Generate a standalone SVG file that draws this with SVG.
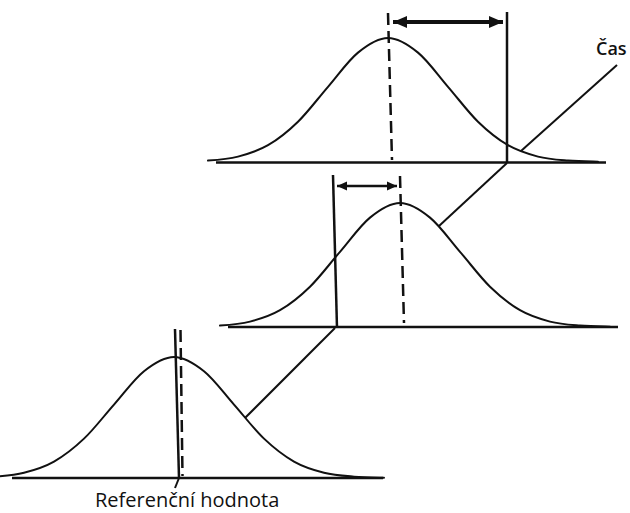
<svg xmlns="http://www.w3.org/2000/svg" xmlns:xlink="http://www.w3.org/1999/xlink" width="630" height="513" viewBox="0 0 630 513">
  <style>
    .curve { fill: none; stroke: #111; stroke-width: 2; stroke-linejoin: round; stroke-linecap: round; }
    .base { stroke: #111; stroke-width: 2.5; }
    .solid { stroke: #111; stroke-width: 2.5; }
    .dash { stroke: #111; stroke-width: 2.5; stroke-dasharray: 12 6; }
    .time { stroke: #111; stroke-width: 2; fill: none; }
    .lbl { font-family: "Open Sans", "Liberation Sans", sans-serif; fill: #111; }
  </style>
  <defs>
    <path id="bell" d="M -180 -1.4 C -170 -2.1, -160 -2.83, -150 -5.4 C -140 -7.97, -130 -10.98, -120 -16.8 C -110 -22.62, -100 -30.57, -90 -40.3 C -80 -50.03, -70 -63.68, -60 -75.2 C -50 -86.72, -40 -101.27, -30 -109.4 C -20 -117.53, -10 -124, 0 -124 C 10 -124, 20 -117.53, 30 -109.4 C 40 -101.27, 50 -86.72, 60 -75.2 C 70 -63.68, 80 -50.03, 90 -40.3 C 100 -30.57, 110 -22.62, 120 -16.8 C 130 -10.98, 140 -7.97, 150 -5.4 C 160 -2.83, 170 -2.25, 180 -1.4 C 190 -0.55, 200 -0.5, 210 -0.3"/>
    <marker id="headBig" markerUnits="userSpaceOnUse" markerWidth="16" markerHeight="14" refX="14" refY="7" orient="auto-start-reverse">
      <path d="M0,1 L14,7 L0,13 Z" fill="#111"/>
    </marker>
    <marker id="headSmall" markerUnits="userSpaceOnUse" markerWidth="12" markerHeight="10" refX="10" refY="5" orient="auto-start-reverse">
      <path d="M0,0.5 L10,5 L0,9.5 Z" fill="#111"/>
    </marker>
  </defs>

  <g id="connectors">
    <line class="time" x1="617" y1="65" x2="521" y2="151"/>
    <line class="time" x1="507" y1="163" x2="439" y2="226"/>
    <line class="time" x1="335" y1="328" x2="245" y2="418"/>
    <line class="time" x1="179" y1="478" x2="175" y2="488"/>
  </g>

  <g id="panel-top">
    <line class="base" x1="216" y1="162.5" x2="606" y2="162.5"/>
    <use xlink:href="#bell" href="#bell" class="curve" transform="translate(388,162)"/>
    <line class="dash" x1="388" y1="13" x2="392" y2="160"/>
    <line class="solid" x1="507" y1="12" x2="507" y2="163"/>
    <line stroke="#111" stroke-width="4" x1="393" y1="22" x2="503" y2="22" marker-start="url(#headBig)" marker-end="url(#headBig)"/>
  </g>

  <g id="panel-middle">
    <line class="base" x1="228" y1="327" x2="618" y2="327"/>
    <use xlink:href="#bell" href="#bell" class="curve" transform="translate(400,327)"/>
    <line class="dash" x1="400" y1="176" x2="404" y2="323"/>
    <line class="solid" x1="333" y1="175" x2="337" y2="328"/>
    <line stroke="#111" stroke-width="2.5" x1="337" y1="186" x2="397" y2="186" marker-start="url(#headSmall)" marker-end="url(#headSmall)"/>
  </g>

  <g id="panel-bottom">
    <line class="base" x1="12" y1="478" x2="383" y2="478"/>
    <use xlink:href="#bell" href="#bell" class="curve" transform="translate(174,478) scale(1,0.976)"/>
    <line class="dash" x1="180.5" y1="330" x2="182.5" y2="476" stroke-dasharray="10 6"/>
    <line class="solid" x1="175" y1="329" x2="179" y2="478"/>
  </g>

  <g id="label-cas">
    <text class="lbl" x="596" y="55" font-size="18" font-weight="600">Čas</text>
  </g>
  <g id="label-ref">
    <text class="lbl" x="95" y="507" font-size="20">Referenční hodnota</text>
  </g>
</svg>
